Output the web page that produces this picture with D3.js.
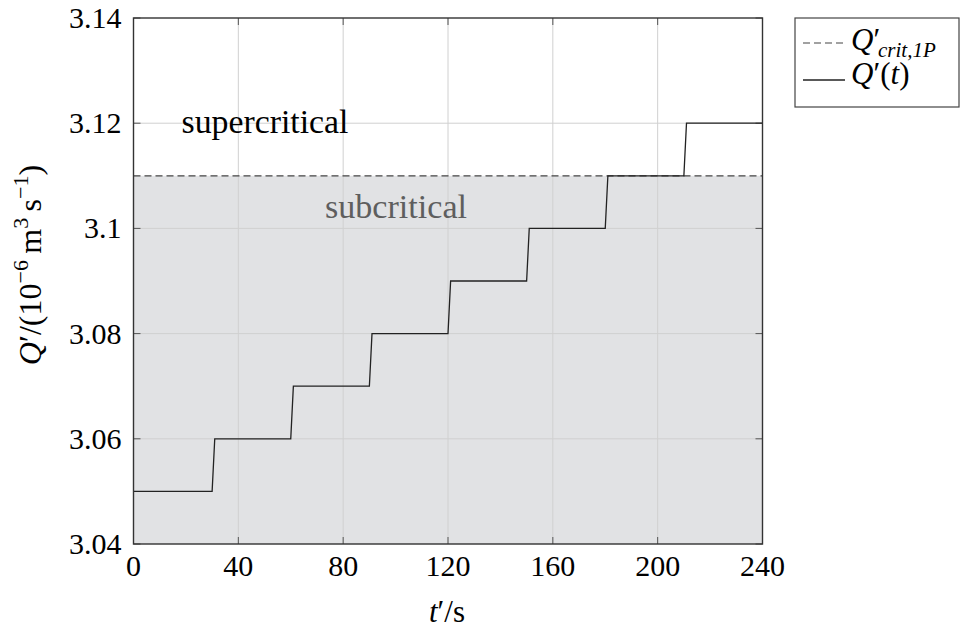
<!DOCTYPE html>
<html>
<head>
<meta charset="utf-8">
<script src="https://cdn.jsdelivr.net/npm/d3@7"></script>
</head>
<body style="margin:0">
<svg id="chart" width="960" height="631"></svg>
<script>
// ---- data ----
const tPoints = [0, 30, 31, 60, 61, 90, 91, 120, 121, 150, 151, 180, 181, 210, 211, 240];
const qPoints = [3.05, 3.05, 3.06, 3.06, 3.07, 3.07, 3.08, 3.08, 3.09, 3.09, 3.10, 3.10, 3.11, 3.11, 3.12, 3.12];
const qCrit = 3.11;
const xTicks = [0, 40, 80, 120, 160, 200, 240];
const xTickLabels = ["0", "40", "80", "120", "160", "200", "240"];
const yTicks = [3.04, 3.06, 3.08, 3.10, 3.12, 3.14];
const yTickLabels = ["3.04", "3.06", "3.08", "3.1", "3.12", "3.14"];
const xDomain = [0, 240];
const yDomain = [3.04, 3.14];

const svg = d3.select("#chart");
const pL = 133.5, pR = 762.5, pT = 18, pB = 544;
const x = d3.scaleLinear().domain(xDomain).range([pL, pR]);
const y = d3.scaleLinear().domain(yDomain).range([pB, pT]);
function txt(parent) {
  return parent.append("text").attr("font-family", "Liberation Serif");
}

// subcritical shading
svg.append("rect")
  .attr("x", x(xDomain[0])).attr("y", y(qCrit))
  .attr("width", x(xDomain[1]) - x(xDomain[0]))
  .attr("height", y(yDomain[0]) - y(qCrit))
  .attr("fill", "#e1e2e4");

// grid
svg.append("g").selectAll("line").data(xTicks.slice(1, -1)).join("line")
  .attr("x1", d => x(d)).attr("x2", d => x(d)).attr("y1", pT).attr("y2", pB)
  .attr("stroke", "#d0d0d0").attr("stroke-width", 1);
svg.append("g").selectAll("line").data(yTicks.slice(1, -1)).join("line")
  .attr("x1", pL).attr("x2", pR).attr("y1", d => y(d)).attr("y2", d => y(d))
  .attr("stroke", "#d0d0d0").attr("stroke-width", 1);

// inner ticks on all sides
const tl = 7;
const tg = svg.append("g").attr("stroke", "#555").attr("stroke-width", 1);
xTicks.forEach(d => {
  tg.append("line").attr("x1", x(d)).attr("x2", x(d)).attr("y1", pB).attr("y2", pB - tl);
  tg.append("line").attr("x1", x(d)).attr("x2", x(d)).attr("y1", pT).attr("y2", pT + tl);
});
yTicks.forEach(d => {
  tg.append("line").attr("x1", pL).attr("x2", pL + tl).attr("y1", y(d)).attr("y2", y(d));
  tg.append("line").attr("x1", pR).attr("x2", pR - tl).attr("y1", y(d)).attr("y2", y(d));
});

// region labels
txt(svg).attr("x", 265).attr("y", 133).attr("text-anchor", "middle")
  .attr("font-size", 33).attr("textLength", 167).attr("lengthAdjust", "spacingAndGlyphs")
  .text("supercritical");
txt(svg).attr("x", 396).attr("y", 218).attr("text-anchor", "middle").attr("fill", "#5e5e5e")
  .attr("font-size", 33).attr("textLength", 142).attr("lengthAdjust", "spacingAndGlyphs")
  .text("subcritical");

// critical dashed line
svg.append("line")
  .attr("x1", x(xDomain[0])).attr("x2", x(xDomain[1]))
  .attr("y1", y(qCrit)).attr("y2", y(qCrit))
  .attr("stroke", "#444").attr("stroke-width", 1.2).attr("stroke-dasharray", "7,4");

// step line
const line = d3.line().x((d, i) => x(tPoints[i])).y(d => y(d));
svg.append("path").datum(qPoints).attr("d", line).attr("fill", "none")
  .attr("stroke", "#222").attr("stroke-width", 1.3);

// frame
svg.append("rect").attr("x", pL).attr("y", pT).attr("width", pR - pL).attr("height", pB - pT)
  .attr("fill", "none").attr("stroke", "#333").attr("stroke-width", 1.4);

// tick labels
xTicks.forEach((d, i) => {
  txt(svg).attr("x", x(d)).attr("y", 576).attr("text-anchor", "middle").attr("font-size", 30).text(xTickLabels[i]);
});
yTicks.forEach((d, i) => {
  txt(svg).attr("x", pL - 12).attr("y", y(d) + 10).attr("text-anchor", "end").attr("font-size", 30).text(yTickLabels[i]);
});

// x axis label
const xl = txt(svg).attr("x", 447).attr("y", 622).attr("text-anchor", "middle").attr("font-size", 31);
xl.append("tspan").attr("font-style", "italic").text("t");
xl.append("tspan").text("′/s");

// y axis label
const yl = txt(svg).attr("transform", "translate(41,265) rotate(-90)")
  .attr("text-anchor", "middle").attr("font-size", 32);
yl.append("tspan").attr("font-style", "italic").text("Q");
yl.append("tspan").text("′/(10");
yl.append("tspan").attr("font-size", 22).attr("dy", -13).text("−6");
yl.append("tspan").attr("dy", 13).text("\u2009m");
yl.append("tspan").attr("font-size", 22).attr("dy", -13).text("3");
yl.append("tspan").attr("dy", 13).text("\u2009s");
yl.append("tspan").attr("font-size", 22).attr("dy", -13).text("−1");
yl.append("tspan").attr("dy", 13).text(")");

// legend
svg.append("rect").attr("x", 795).attr("y", 18).attr("width", 164).attr("height", 89)
  .attr("fill", "#fff").attr("stroke", "#444").attr("stroke-width", 1.2);
svg.append("line").attr("x1", 803).attr("x2", 845).attr("y1", 43).attr("y2", 43)
  .attr("stroke", "#444").attr("stroke-width", 1.2).attr("stroke-dasharray", "7,4");
svg.append("line").attr("x1", 803).attr("x2", 845).attr("y1", 80).attr("y2", 80)
  .attr("stroke", "#222").attr("stroke-width", 1.3);
const q1 = txt(svg).attr("x", 851).attr("y", 50).attr("font-size", 31);
q1.append("tspan").attr("font-style", "italic").text("Q");
q1.append("tspan").text("′");
txt(svg).attr("x", 878).attr("y", 57).attr("font-size", 21).attr("font-style", "italic").text("crit,1P");
const t2 = txt(svg).attr("x", 851).attr("y", 84).attr("font-size", 31);
t2.append("tspan").attr("font-style", "italic").text("Q");
t2.append("tspan").text("′(");
t2.append("tspan").attr("font-style", "italic").text("t");
t2.append("tspan").text(")");
</script>
</body>
</html>
